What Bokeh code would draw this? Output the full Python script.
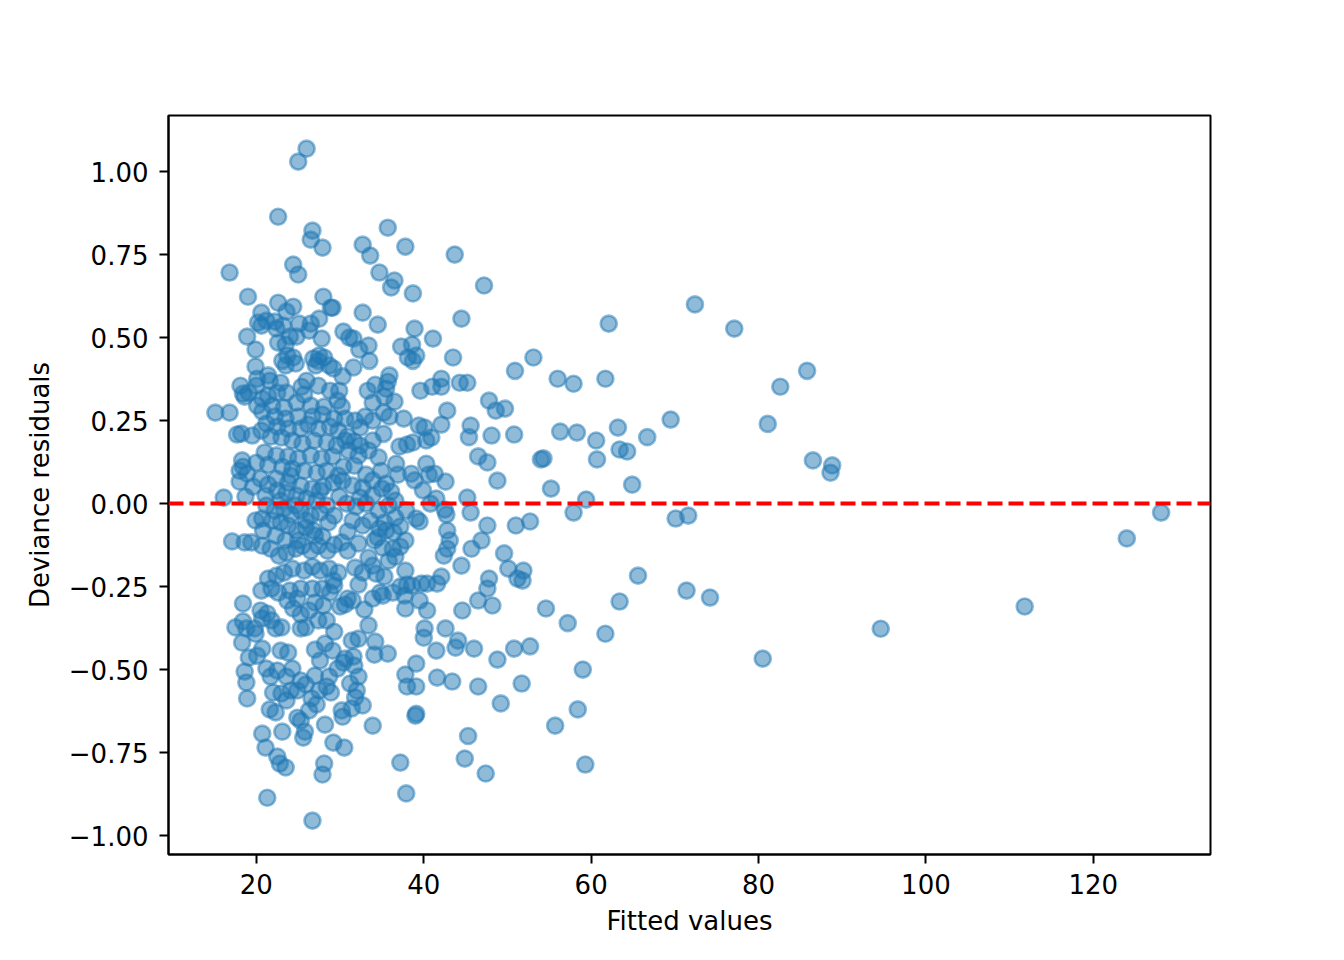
from bokeh.plotting import figure
from bokeh.models import FixedTicker, Span, Range1d
from bokeh.embed import file_html
from bokeh.resources import INLINE

# (fitted value, deviance residual) pairs
fitted = [
    128.1, 124.0, 111.8, 94.6, 80.5, 85.8, 82.6, 81.1, 86.5, 88.8, 88.6, 77.1, 72.4, 69.5, 70.1, 71.6, 71.4, 74.2,
    66.7, 64.9, 64.3, 63.4, 63.2, 61.7, 62.1, 60.6, 60.7, 65.6, 63.4, 61.7, 59.4, 57.9, 58.3, 57.9, 56.0, 56.3,
    55.2, 54.3, 54.0, 57.2, 54.6, 59.0, 58.4, 55.7, 59.3, 53.1, 50.9, 49.7, 50.8, 52.7, 51.0, 51.9, 51.2, 51.8,
    50.1, 49.6, 52.7, 50.8, 51.7, 48.8, 49.2, 48.8, 47.8, 48.6, 48.1, 47.2, 47.6, 46.5, 45.6, 45.4, 45.2, 44.3,
    44.5, 43.5, 43.7, 45.6, 45.2, 45.7, 47.6, 46.9, 47.8, 47.6, 48.2, 46.5, 46.0, 46.5, 45.3, 44.9, 47.4, 44.5,
    44.6, 44.1, 43.8, 43.4, 42.6, 43.1, 42.8, 42.4, 42.8, 42.7, 42.5, 41.6, 42.1, 41.6, 41.5, 42.6, 42.8, 42.1,
    42.1, 42.1, 41.1, 41.0, 40.3, 39.4, 40.6, 39.9, 39.5, 38.9, 39.7, 40.4, 40.4, 40.1, 40.0, 38.6, 39.1, 39.5,
    39.0, 39.1, 39.1, 38.0, 37.8, 37.9, 37.2, 38.0, 37.8, 37.8, 37.7, 39.1, 37.9, 38.5, 38.0, 38.7, 38.7, 39.1,
    38.6, 38.1, 38.9, 37.3, 38.7, 37.8, 39.6, 40.1, 40.9, 41.3, 40.3,
    35.7, 36.5, 36.1, 34.7, 33.6, 32.7, 34.5, 32.7, 35.9, 35.7, 35.5, 34.2, 35.3, 36.5, 33.3, 33.9, 35.2, 35.9,
    33.4, 32.3, 33.5, 31.6, 30.4, 31.1, 35.2, 33.9, 34.6, 32.4, 31.7, 30.9, 31.7, 33.1, 33.9, 35.5, 35.0, 36.1,
    36.7, 36.9, 36.6, 35.8, 34.6, 33.1, 32.4, 31.9, 30.8, 29.9, 35.3, 35.5, 34.7, 36.4, 34.5, 34.1, 35.1, 33.4,
    32.2, 30.9, 30.2, 30.9, 31.8, 32.7, 33.9, 34.3, 35.3, 33.9, 34.8, 36.3, 37.2, 35.1, 32.9, 31.5, 30.6, 30.0,
    32.2, 30.9, 33.4, 34.2, 34.1, 32.2, 31.4, 31.6, 35.7, 30.6, 30.4, 31.7, 32.2, 31.2, 32.0, 31.8, 32.7, 31.4,
    30.2, 30.3, 33.9, 30.5, 29.2, 28.2, 28.1, 27.9, 26.7, 21.3,
    26.0, 25.0, 22.6, 26.7, 26.5, 27.9, 24.4, 25.0, 16.8, 19.0, 28.0, 28.9, 29.1, 22.6, 24.4, 23.6, 20.6, 21.2,
    20.2, 22.2, 22.4, 23.2, 25.1, 26.5, 27.5, 26.3, 24.8, 24.0, 22.6, 23.5, 19.9, 23.7, 24.4, 24.7, 23.1, 26.8,
    27.4, 27.5, 28.1, 27.1, 27.8, 28.7, 29.2, 23.5, 21.4, 20.1, 18.1, 22.9, 23.6, 25.4, 26.0, 25.7, 27.4, 28.8,
    29.9, 29.7, 21.6, 18.9, 20.6,
    15.1, 16.8, 17.7, 18.2, 18.6, 18.4, 19.1, 18.3, 18.4, 18.0, 18.9, 18.0, 16.1, 18.7, 19.6, 17.1, 18.6, 19.4,
    18.4, 17.5, 18.4, 18.8, 18.3, 19.1, 18.6, 18.8, 18.9, 20.1, 20.7, 19.8, 20.6, 20.5, 19.9, 21.3, 20.7, 21.8,
    22.3, 23.0, 21.2, 21.7, 22.5, 22.9, 23.8, 23.6, 24.3, 21.6, 22.3, 22.0, 23.0, 23.6, 24.1, 20.7, 21.1, 22.5,
    22.8, 23.5, 23.1, 24.9, 25.3, 25.8, 25.6, 26.6, 26.3, 27.2, 27.5, 24.9, 25.3, 25.9, 27.0, 28.4, 28.9, 28.7,
    29.7, 27.6, 27.0, 28.2, 29.1, 29.3, 28.4, 27.4, 25.9, 25.3, 25.3, 24.4, 23.7, 24.9, 26.3, 27.0, 28.0, 28.8,
    29.3, 27.9, 26.7, 25.3, 24.0, 22.6, 21.8, 21.4, 22.4, 23.3, 24.3, 25.7, 26.7, 27.6, 28.7, 29.8, 29.2, 26.5,
    25.5, 24.7, 23.6, 22.7, 21.7, 20.7, 27.4, 28.5, 29.3, 27.9, 26.8, 25.9, 24.8, 23.8, 22.9, 21.9, 20.7, 19.9,
    20.8, 28.6, 29.3, 27.6, 26.5, 25.3, 24.1, 23.3, 22.2, 21.2, 28.4, 27.2, 26.0, 24.8, 23.6, 22.5, 21.4, 20.5,
    22.4, 23.8, 25.3, 26.7, 28.0, 29.2, 29.8, 28.4, 27.2, 25.7, 24.3, 23.1, 21.4, 20.0, 21.0, 22.4, 23.8, 25.0,
    26.5, 27.8, 29.1, 29.6, 28.4, 26.9, 25.5, 24.3, 23.0, 21.7, 20.6, 19.5, 21.2, 22.5, 23.8, 25.3, 26.2, 27.4,
    28.8, 29.8, 29.3, 27.9, 26.7, 25.0, 23.5, 22.2, 20.7, 20.1, 21.9, 23.3, 24.8, 26.5, 28.1, 20.7, 21.4, 20.0,
    19.9, 22.5,
    30.3, 31.6, 30.2, 30.6, 31.8, 33.0, 33.9, 32.4, 30.6, 31.0, 32.2, 33.4, 34.9, 30.4, 30.3, 31.5, 32.7, 33.9,
    31.5, 32.7, 33.6, 36.6, 37.2, 36.6, 35.8, 36.3, 37.2, 37.8, 37.6, 37.1, 41.5, 40.8,
    24.7, 25.9, 27.0, 25.0, 23.5, 22.3, 27.6, 24.1, 22.9, 21.1,
]
resid = [
    -0.027, -0.105, -0.31, -0.377, -0.467, 0.40, 0.352, 0.24, 0.13, 0.115, 0.093, 0.527, 0.60, 0.253, -0.045, -0.036, -0.262, -0.283,
    0.20, 0.057, 0.157, 0.163, 0.229, 0.376, 0.542, 0.19, 0.133, -0.217, -0.295, -0.392, 0.012, -0.027, 0.214, 0.361, 0.376, 0.217,
    0.045, 0.136, 0.133, -0.36, -0.316, -0.50, -0.62, -0.669, -0.786, 0.44, 0.40, 0.286, 0.208, -0.054, -0.066, -0.202, -0.226, -0.232,
    -0.196, -0.15, -0.43, -0.437, -0.542, -0.47, -0.602, 0.069, 0.31, 0.28, 0.205, 0.657, 0.124, 0.142, 0.235, 0.20, 0.364, 0.364,
    0.557, 0.44, 0.75, -0.027, 0.018, -0.136, -0.066, -0.111, -0.226, -0.256, -0.307, -0.292, -0.437, -0.551, -0.70, -0.768, -0.813, -0.187,
    -0.322, -0.413, -0.434, -0.536, -0.376, -0.111, -0.136, -0.157, -0.081, -0.033, -0.018, -0.241, -0.22, -0.524, -0.443, 0.066, 0.28, 0.352,
    0.376, 0.238, 0.497, 0.352, 0.19, 0.235, 0.087, 0.04, -0.054, 0.07, -0.241, -0.241, -0.322, -0.376, -0.404, -0.247, -0.482, -0.292,
    -0.639, -0.633, -0.551, -0.551, -0.515, -0.873, -0.78, -0.244, -0.202, -0.316, -0.277, -0.045, -0.021, 0.09, 0.178, 0.184, 0.43, 0.446,
    0.479, 0.44, 0.527, 0.473, 0.633, 0.774, 0.34, 0.229, 0.199, 0.09, 0.12,
    0.831, 0.672, 0.651, 0.696, 0.747, 0.78, 0.539, 0.575, 0.386, 0.367, 0.346, 0.358, 0.322, 0.307, 0.34, 0.304, 0.274, 0.262,
    0.476, 0.464, 0.43, 0.497, 0.518, 0.50, 0.21, 0.19, 0.139, 0.175, 0.187, 0.202, 0.114, 0.087, 0.07, 0.06, 0.045, 0.036,
    0.12, 0.087, 0.009, -0.006, -0.021, 0.0, 0.018, -0.009, 0.0, 0.021, -0.057, -0.081, -0.075, -0.087, -0.102, -0.111, -0.133, -0.163,
    -0.12, -0.084, -0.117, -0.142, -0.193, -0.208, -0.187, -0.211, -0.22, -0.286, -0.268, -0.268, -0.25, -0.277, -0.319, -0.292, -0.304, -0.31,
    -0.244, -0.286, -0.367, -0.416, -0.455, -0.407, -0.413, -0.461, -0.452, -0.467, -0.479, -0.488, -0.521, -0.542, -0.563, -0.584, -0.608, -0.617,
    -0.623, -0.642, -0.669, -0.735, -0.72, -0.666, -0.783, -0.816, -0.955, -0.886,
    1.069, 1.03, 0.864, 0.822, 0.795, 0.771, 0.72, 0.69, 0.696, 0.623, 0.623, 0.59, 0.59, 0.605, 0.593, 0.578, 0.575, 0.551,
    0.545, 0.548, 0.527, 0.536, 0.542, 0.542, 0.557, 0.521, 0.503, 0.503, 0.485, 0.479, 0.464, 0.446, 0.44, 0.422, 0.43, 0.437,
    0.43, 0.446, 0.44, 0.416, 0.497, 0.416, 0.407, 0.416, 0.386, 0.376, 0.355, 0.364, 0.334, 0.352, 0.37, 0.328, 0.355, 0.34,
    0.34, 0.31, 0.37, 0.503, 0.536,
    0.274, 0.274, 0.208, 0.211, 0.322, 0.331, 0.334, 0.13, 0.111, 0.099, 0.09, 0.066, 0.018, 0.021, 0.051, -0.114, -0.117, -0.117,
    -0.301, -0.373, -0.355, -0.376, -0.419, -0.464, -0.506, -0.539, -0.587, -0.458, -0.437, -0.376, -0.262, -0.322, -0.392, -0.331, -0.346, -0.352,
    -0.376, -0.373, -0.497, -0.521, -0.503, -0.443, -0.449, -0.521, -0.497, -0.62, -0.629, -0.569, -0.572, -0.593, -0.563, -0.693, -0.735, -0.762,
    -0.783, -0.795, -0.687, -0.645, -0.654, -0.687, -0.705, -0.587, -0.623, -0.605, -0.563, -0.563, -0.533, -0.545, -0.518, -0.551, -0.569, -0.521,
    -0.497, -0.473, -0.44, -0.422, -0.443, -0.386, -0.352, -0.352, -0.373, -0.376, -0.334, -0.316, -0.292, -0.286, -0.322, -0.298, -0.307, -0.268,
    -0.247, -0.256, -0.256, -0.256, -0.262, -0.268, -0.256, -0.226, -0.217, -0.208, -0.196, -0.202, -0.19, -0.202, -0.196, -0.208, -0.232, -0.142,
    -0.127, -0.136, -0.148, -0.157, -0.136, -0.127, -0.127, -0.142, -0.124, -0.099, -0.081, -0.072, -0.081, -0.066, -0.057, -0.051, -0.045, -0.051,
    -0.081, -0.057, -0.036, -0.027, -0.036, -0.021, -0.033, -0.015, -0.021, -0.006, -0.006, 0.009, 0.015, 0.024, 0.033, 0.039, 0.057, 0.075,
    0.075, 0.063, 0.054, 0.045, 0.051, 0.063, 0.084, 0.099, 0.093, 0.099, 0.105, 0.111, 0.117, 0.123, 0.154, 0.145, 0.142, 0.136,
    0.145, 0.136, 0.142, 0.175, 0.184, 0.19, 0.181, 0.19, 0.199, 0.202, 0.22, 0.205, 0.241, 0.232, 0.226, 0.226, 0.238, 0.226,
    0.232, 0.22, 0.256, 0.268, 0.262, 0.262, 0.256, 0.262, 0.277, 0.295, 0.295, 0.289, 0.304, 0.295, 0.292, 0.316, 0.325, 0.355,
    0.413, 0.334,
    0.383, 0.41, 0.292, 0.256, 0.25, 0.262, 0.25, 0.229, 0.19, 0.16, 0.145, 0.16, 0.099, 0.111, 0.069, 0.054, 0.048, 0.024,
    -0.051, -0.066, -0.051, -0.042, -0.069, -0.16, -0.172, -0.136, -0.13, -0.111, 0.256, 0.172, 0.015, 0.0,
    -0.006, -0.051, -0.096, -0.111, -0.111, -0.096, 0.039, 0.084, 0.009, 0.024,
]

x_ticks = [20, 40, 60, 80, 100, 120]
y_ticks = [-1.0, -0.75, -0.5, -0.25, 0.0, 0.25, 0.5, 0.75, 1.0]
y_tick_labels = {v: ("\u2212" if v < 0 else "") + f"{abs(v):.2f}" for v in y_ticks}

n = min(len(fitted), len(resid))
fitted = fitted[:n]
resid = resid[:n]

p = figure(
    output_backend="svg", toolbar_location=None,
    frame_width=1042, frame_height=739,
    min_border_left=168, min_border_right=126, min_border_top=115, min_border_bottom=98,
    x_range=Range1d(9.5, 134.0), y_range=Range1d(-1.057, 1.169),
)
p.background_fill_color = "white"
p.border_fill_color = "white"
p.grid.visible = False
p.outline_line_color = "black"
p.outline_line_width = 2

p.scatter(fitted, resid, size=16, fill_color="#1f77b4", fill_alpha=0.5,
          line_color="#1f77b4", line_alpha=0.5, line_width=2.67)

p.add_layout(Span(location=0, dimension="width", line_color="red",
                  line_width=4, line_dash="15 6"))

p.xaxis.ticker = FixedTicker(ticks=x_ticks)
p.yaxis.ticker = FixedTicker(ticks=y_ticks)
p.yaxis.major_label_overrides = y_tick_labels
p.xaxis.axis_label = "Fitted values"
p.yaxis.axis_label = "Deviance residuals"

for ax in (p.xaxis, p.yaxis):
    ax.major_label_text_font = "DejaVu Sans"
    ax.major_label_text_font_size = "26px"
    ax.major_label_text_color = "black"
    ax.axis_label_text_font = "DejaVu Sans"
    ax.axis_label_text_font_size = "26px"
    ax.axis_label_text_font_style = "normal"
    ax.axis_label_text_color = "black"
    ax.major_tick_out = 9
    ax.major_tick_in = 0
    ax.minor_tick_line_color = None
    ax.major_tick_line_width = 2
    ax.major_tick_line_color = "black"
    ax.axis_line_width = 2
    ax.axis_line_color = "black"

p.xaxis.major_label_standoff = 10
p.xaxis.axis_label_standoff = 9
p.yaxis.major_label_standoff = 11
p.yaxis.axis_label_standoff = 11

open("out.html", "w").write(file_html(p, INLINE))
